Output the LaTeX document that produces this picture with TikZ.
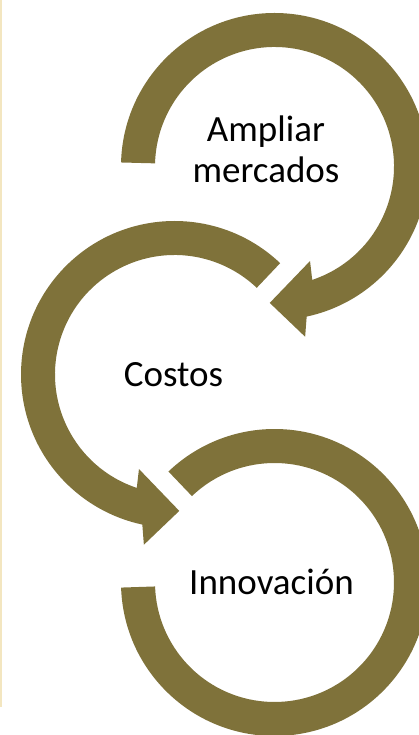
\documentclass[tikz,border=0pt]{standalone}
\usepackage{fontspec}
\setmainfont{Carlito}
\definecolor{olivering}{RGB}{127,114,58}
\definecolor{edgeline}{RGB}{243,230,192}
\begin{document}
\begin{tikzpicture}[x=1pt,y=1pt,
  ring/.style={fill=olivering,draw=none},
  lbl/.style={font=\fontsize{37}{41}\selectfont,text=black,inner sep=0pt,anchor=base}]
\useasboundingbox (0,0) rectangle (418,735);
\fill[edgeline] (0,28) rectangle (1.6,735);
\coordinate (c1) at (274.5,568.5);
\coordinate (c2) at (174.5,360.5);
\coordinate (c3) at (274.5,152.5);
% circle 1 with arrowhead
\begin{scope}[shift={(c1)}]
\fill[ring] (178.5:153.5) arc[start angle=178.5,end angle=-77.9,radius=153.5]
  -- (-79.8:173) -- (-92:136.5) -- (-69.4:101) -- (-71.6:119.5)
  arc[start angle=-71.6,end angle=178.5,radius=119.5] -- cycle;
\end{scope}
% circle 2 with arrowhead
\begin{scope}[shift={(c2)}]
\fill[ring] (46.5:153.5) arc[start angle=46.5,end angle=257.9,radius=153.5]
  -- (259.8:173) -- (272:136.5) -- (249.4:101) -- (251.6:119.5)
  arc[start angle=251.6,end angle=46.5,radius=119.5] -- cycle;
\end{scope}
% circle 3
\begin{scope}[shift={(c3)}]
\fill[ring] (181.9:153.5) arc[start angle=181.9,end angle=493.7,radius=153.5]
  -- (493.7:119.5) arc[start angle=493.7,end angle=181.9,radius=119.5] -- cycle;
\end{scope}
\node[lbl] (t1a) at (266,593.3) {Ampliar};
\node[lbl] (t1b) at (266,552.3) {mercados};
\node[lbl] (t2) at (173.5,348) {Costos};
\node[lbl] (t3) at (271.5,140) {Innovación};
\end{tikzpicture}
\end{document}
